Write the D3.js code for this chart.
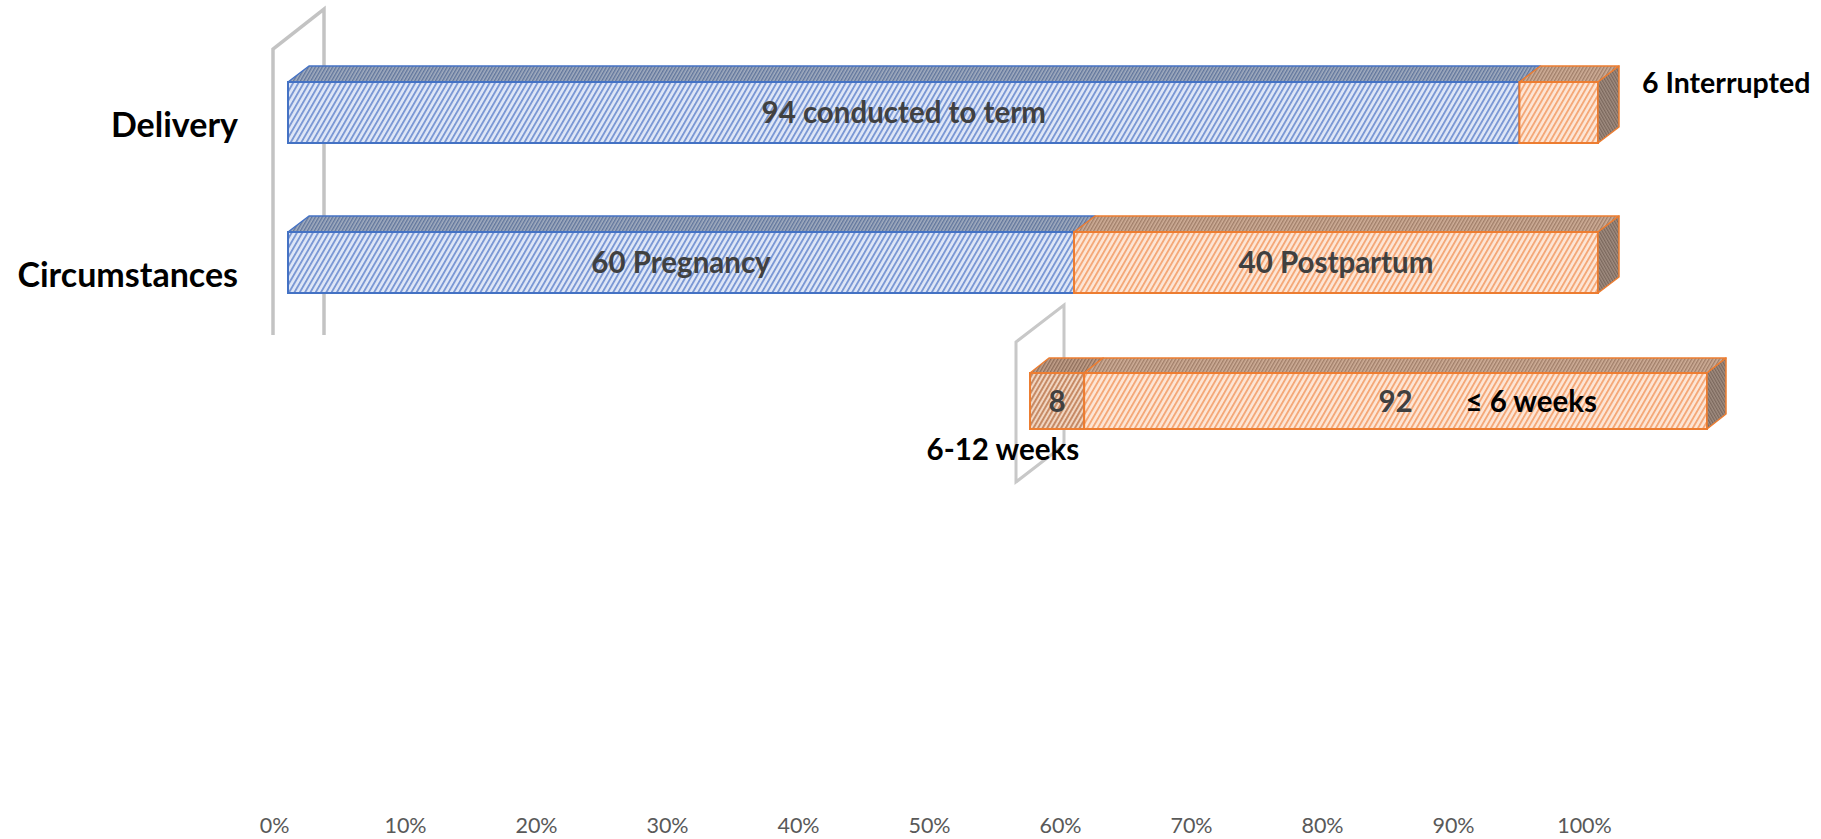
<!DOCTYPE html>
<html>
<head>
<meta charset="utf-8">
<script src="https://d3js.org/d3.v7.min.js"></script>
<style>
  body { margin: 0; background: #fff; }
  text { font-family: Lato, "Open Sans", sans-serif; }
</style>
</head>
<body>
<div id="graph"></div>
<script>
// data
const categories = ["Delivery", "Circumstances"];
const firstValues = [94, 60];          // blue series
const secondValues = [6, 40];          // orange series
const firstLabels = ["94 conducted to term", "60 Pregnancy"];
const secondLabels = ["", "40 Postpartum"];
const outsideLabel = "6 Interrupted";

const postpartumValues = [8, 92];
const postpartumNames = ["6-12 weeks", "≤ 6 weeks"];

const tickValues = [0, 0.1, 0.2, 0.3, 0.4, 0.5, 0.6, 0.7, 0.8, 0.9, 1];

const w = 1821, h = 839;

const svg = d3.select('#graph').append('svg')
    .attr('width', w)
    .attr('height', h);

// hatch patterns
const defs = svg.append('defs');
function hatch(id, bg, fg, size, sw, angle){
    const p = defs.append('pattern')
        .attr('id', id)
        .attr('patternUnits', 'userSpaceOnUse')
        .attr('width', size)
        .attr('height', size)
        .attr('patternTransform', 'rotate(' + angle + ')');
    p.append('rect').attr('width', size).attr('height', size).attr('fill', bg);
    p.append('rect').attr('width', sw).attr('height', size).attr('fill', fg);
}
hatch('blueFront', '#dfe7f7', '#7b98d4', 4.6, 1.9, 30);
hatch('blueTop', '#a3adbf', '#60759c', 3, 1.4, 30);
hatch('orangeFront', '#fde6d6', '#f4a878', 4.6, 1.9, 30);
hatch('orangeTop', '#cfae98', '#a07e69', 3, 1.4, 30);
hatch('orangeSide', '#a08c80', '#7a675c', 2.6, 1.2, -30);
hatch('darkFront', '#f1d6c2', '#c48660', 4, 1.9, 30);
hatch('darkTop', '#c2a08a', '#8e6e5b', 3, 1.4, 30);

const styles = {
    blue:   {front: 'url(#blueFront)', top: 'url(#blueTop)', side: 'url(#blueTop)', stroke: '#4472c4'},
    orange: {front: 'url(#orangeFront)', top: 'url(#orangeTop)', side: 'url(#orangeSide)', stroke: '#ed7d31'},
    dark:   {front: 'url(#darkFront)', top: 'url(#darkTop)', side: 'url(#orangeSide)', stroke: '#ed7d31'}
};

function drawBar(g, x0, x1, y, bh, dx, dy, st, last){
    g.append('path')
        .attr('d', 'M' + x0 + ',' + y + 'L' + (x0 + dx) + ',' + (y + dy) + 'L' + (x1 + dx) + ',' + (y + dy) + 'L' + x1 + ',' + y + 'Z')
        .attr('fill', st.top).attr('stroke', st.stroke).attr('stroke-width', 1.5).attr('stroke-linejoin', 'round');
    g.append('rect')
        .attr('x', x0).attr('y', y).attr('width', x1 - x0).attr('height', bh)
        .attr('fill', st.front).attr('stroke', st.stroke).attr('stroke-width', 2);
    if (last){
        g.append('path')
            .attr('d', 'M' + x1 + ',' + y + 'L' + (x1 + dx) + ',' + (y + dy) + 'L' + (x1 + dx) + ',' + (y + dy + bh) + 'L' + x1 + ',' + (y + bh) + 'Z')
            .attr('fill', st.side).attr('stroke', st.stroke).attr('stroke-width', 1.5).attr('stroke-linejoin', 'round');
    }
}

// upper chart
const xTop = d3.scaleLinear().domain([0, 100]).range([288, 1598]);
const yTop = d3.scalePoint().domain(categories).range([82, 232]);
const barH = 61, dx = 21, dy = -16;

// back wall
svg.append('path')
    .attr('d', 'M' + (xTop(0) - 15) + ',335V49L' + (xTop(0) + 36) + ',9V335')
    .attr('fill', 'none').attr('stroke', '#c3c3c3').attr('stroke-width', 3.5);

const upper = svg.append('g');
categories.forEach((c, i) => {
    const y = yTop(c);
    drawBar(upper, xTop(0), xTop(firstValues[i]), y, barH, dx, dy, styles.blue, false);
    drawBar(upper, xTop(firstValues[i]), xTop(firstValues[i] + secondValues[i]), y, barH, dx, dy, styles.orange, true);

    upper.append('text')
        .attr('x', 238).attr('y', y + 55)
        .attr('text-anchor', 'end')
        .style('font-size', '34px').style('font-weight', 'bold').style('fill', '#000')
        .text(c);

    upper.append('text')
        .attr('x', (xTop(0) + xTop(firstValues[i])) / 2).attr('y', y + barH / 2)
        .attr('dy', '0.36em').attr('text-anchor', 'middle')
        .style('font-size', '29.5px').style('font-weight', 'bold').style('fill', '#404040')
        .text(firstLabels[i]);

    upper.append('text')
        .attr('x', (xTop(firstValues[i]) + xTop(100)) / 2).attr('y', y + barH / 2)
        .attr('dy', '0.36em').attr('text-anchor', 'middle')
        .style('font-size', '29.5px').style('font-weight', 'bold').style('fill', '#404040')
        .text(secondLabels[i]);
});

upper.append('text')
    .attr('x', xTop(100) + 44).attr('y', yTop('Delivery') + 11)
    .style('font-size', '28.5px').style('font-weight', 'bold').style('fill', '#000')
    .text(outsideLabel);

// lower chart (postpartum split)
const xLow = d3.scaleLinear().domain([0, 100]).range([1030, 1707]);
const yLow = 373, lowH = 56, ldx = 19, ldy = -15;

svg.append('path')
    .attr('d', 'M1016,482V342L1064,305V445Z')
    .attr('fill', 'none').attr('stroke', '#c8c8c8').attr('stroke-width', 3);

const lower = svg.append('g');
let acc = 0;
postpartumValues.forEach((v, i) => {
    drawBar(lower, xLow(acc), xLow(acc + v), yLow, lowH, ldx, ldy, i === 0 ? styles.dark : styles.orange, i === postpartumValues.length - 1);
    lower.append('text')
        .attr('x', (xLow(acc) + xLow(acc + v)) / 2).attr('y', yLow + lowH / 2)
        .attr('dy', '0.36em').attr('text-anchor', 'middle')
        .style('font-size', '29.5px').style('font-weight', 'bold').style('fill', '#404040')
        .text(v);
    acc += v;
});

lower.append('text')
    .attr('x', xLow(8) - 5).attr('y', 460)
    .attr('text-anchor', 'end')
    .style('font-size', '29.5px').style('font-weight', 'bold').style('fill', '#000')
    .text(postpartumNames[0]);

lower.append('text')
    .attr('x', 1597).attr('y', yLow + lowH / 2)
    .attr('dy', '0.36em').attr('text-anchor', 'end')
    .style('font-size', '29.5px').style('font-weight', 'bold').style('fill', '#000')
    .text(postpartumNames[1]);

// x axis
const xAxisScale = d3.scaleLinear().domain([0, 1]).range([274, 1584]);
const xAxis = d3.axisBottom(xAxisScale)
    .tickValues(tickValues)
    .tickSize(0)
    .tickPadding(3)
    .tickFormat(d3.format('.0%'));

svg.append('g')
    .attr('transform', 'translate(0,815)')
    .call(xAxis)
    .call(g => g.select('.domain').remove())
    .selectAll('text')
    .style('font-family', 'Lato, "Open Sans", sans-serif')
    .style('font-size', '21.5px')
    .style('fill', '#595959');
</script>
</body>
</html>
